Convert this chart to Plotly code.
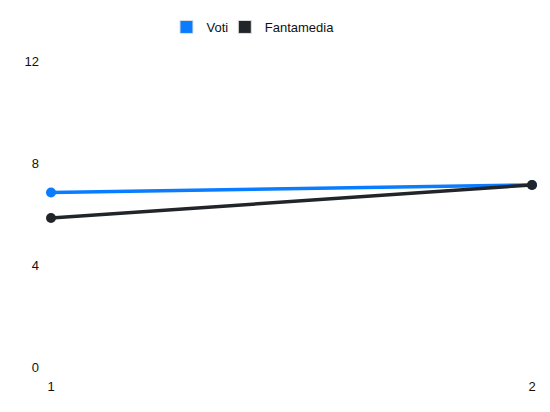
import plotly.graph_objects as go

# match numbers and averages
giornate = [1, 2]
voti = [6.85, 7.15]
fantamedia = [5.85, 7.15]
y_ticks = [0, 4, 8, 12]

blue = "#0a7cff"
dark = "#212529"

fig = go.Figure()

# visible lines (legend handled by the square entries below)
fig.add_trace(go.Scatter(
    x=giornate, y=voti, mode="lines+markers", name="Voti",
    line=dict(color=blue, width=3.5), marker=dict(color=blue, size=10),
    showlegend=False, cliponaxis=False
))
fig.add_trace(go.Scatter(
    x=giornate, y=fantamedia, mode="lines+markers", name="Fantamedia",
    line=dict(color=dark, width=3.5), marker=dict(color=dark, size=10),
    showlegend=False, cliponaxis=False
))

# square legend entries, one legend each so the spacing can be tightened
for name, col, lg in [("Voti", blue, "legend"), ("Fantamedia", dark, "legend2")]:
    fig.add_trace(go.Scatter(
        x=[None], y=[None], mode="markers", name=name, legend=lg,
        marker=dict(symbol="square", size=13, color=col,
                    line=dict(color="#e0e0e0", width=1))
    ))

legend_style = dict(orientation="h", xref="container", yref="container",
                    xanchor="left", y=0.953, yanchor="middle",
                    bgcolor="rgba(0,0,0,0)",
                    itemsizing="trace", font=dict(size=13))

# page body has an 8px margin, so the figure is a bit smaller than the window
fig.update_layout(
    width=542, height=404,
    margin=dict(l=43, r=18, t=51, b=45),
    paper_bgcolor="white", plot_bgcolor="white",
    font=dict(family="Liberation Sans, Arial, sans-serif", size=13, color="#111"),
    legend=dict(x=0.2924, **legend_style),
    legend2=dict(x=0.4, **legend_style),
)
fig.update_xaxes(range=[1, 2], tickvals=giornate, showgrid=False, zeroline=False,
                 showline=False, ticklabelstandoff=10)
fig.update_yaxes(range=[0, 12], tickvals=y_ticks, showgrid=False, zeroline=False,
                 showline=False, ticklabelstandoff=11)

fig.write_html("out.html")
